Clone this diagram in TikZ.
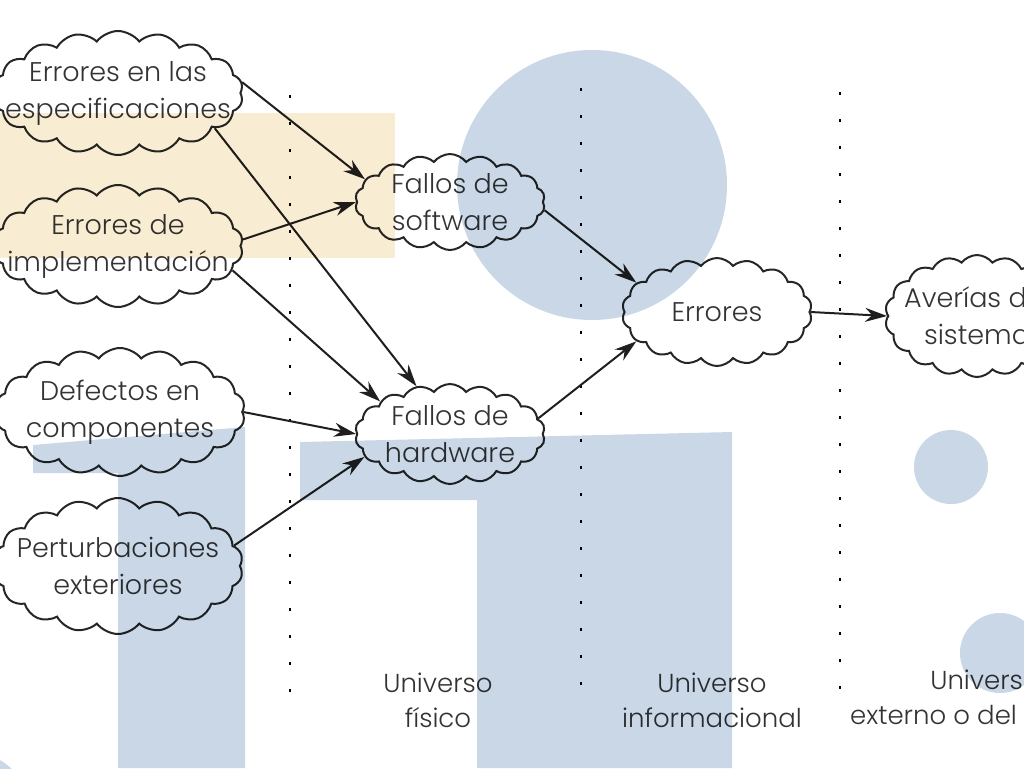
\documentclass[tikz,border=0pt]{standalone}
\usepackage{fontspec}
\setmainfont{Poppins}[UprightFont=* Light]
\usepackage{tikz}
\usetikzlibrary{arrows.meta}
\usetikzlibrary{shapes.symbols}
\definecolor{inkgray}{HTML}{333333}
\definecolor{wmblue}{HTML}{C9D7E6}
\definecolor{wmsand}{HTML}{F8ECD2}
\tikzstyle{cloudnode} = [draw=black!85, cloud, cloud puffs=18, cloud puff arc=105, cloud ignores aspect, line width=1pt, align=center, inner xsep=-24pt, inner ysep=-8pt, text=inkgray, font=\fontsize{13.5}{18.5}\selectfont]
\tikzstyle{arrow} = [draw=black!88, line width=1pt, -{Stealth[length=11pt,width=7pt]}]
\tikzstyle{divider} = [line width=1.1pt, dash pattern=on 1.5pt off 12pt]
\tikzstyle{universe} = [align=center, text=inkgray, font=\fontsize{13}{17.5}\selectfont]

\begin{document}
\begin{tikzpicture}[x=0.5pt,y=-0.5pt]
\useasboundingbox (0,0) rectangle (1024,768);
\clip (0,0) rectangle (1024,768);

% separaciones entre universos
\draw[divider] (290,95) -- (290,695);
\draw[divider] (581,88) -- (581,690);
\draw[divider] (840,92) -- (840,695);

\node[cloudnode, minimum width=125pt, minimum height=62pt](spec) at (118,93){Errores en las\\especificaciones};
\node[cloudnode, minimum width=125pt, minimum height=61pt](impl) at (118,246){Errores de\\implementación};
\node[cloudnode, minimum width=125pt, minimum height=64pt](comp) at (120,412){Defectos en\\componentes};
\node[cloudnode, minimum width=125pt, minimum height=68pt](pert) at (118,566){Perturbaciones\\exteriores};
\node[cloudnode, minimum width=95pt, minimum height=48pt](soft) at (450,202){Fallos de\\software};
\node[cloudnode, minimum width=95pt, minimum height=50pt](hard) at (450,434){Fallos de\\hardware};
\node[cloudnode, minimum width=95pt, minimum height=54pt](err) at (717,312){Errores};
\node[cloudnode, minimum width=92pt, minimum height=61pt](fail) at (977,316){Averías del\\sistema};

\draw[arrow](spec.5) -- (soft.165);
\draw[arrow](spec.-20) -- (hard.125);
\draw[arrow](impl.3) -- (soft.180);
\draw[arrow](impl.-12) -- (hard.155);
\draw[arrow](comp.0) -- (hard.180);
\draw[arrow](pert.10) -- (hard.-165);
\draw[arrow](soft.-5) -- (err.160);
\draw[arrow](hard.10) -- (err.-160);
\draw[arrow](err.east) -- (fail.west);

\node[universe](uphys) at (438,700){Universo\\físico};
\node[universe](uinfo) at (712,700){Universo\\informacional};
\node[universe](uext) at (985,697){Universo\\externo o del usuario};

% marca de agua
\begin{scope}[blend mode=multiply]
\fill[wmsand] (0,113) rectangle (395,258);
\fill[wmblue] (592,185) circle (135);
\fill[wmblue] (33,445) -- (245,427) -- (245,768) -- (118,768) -- (118,473) -- (33,473) -- cycle;
\fill[wmblue] (300,442) -- (732,432) -- (732,768) -- (477,768) -- (477,500) -- (300,500) -- cycle;
\fill[wmblue] (951,467) circle (37);
\fill[wmblue] (1000,653) circle (40);
\fill[wmblue] (-30,812) circle (60);
\end{scope}
\end{tikzpicture}
\end{document}
